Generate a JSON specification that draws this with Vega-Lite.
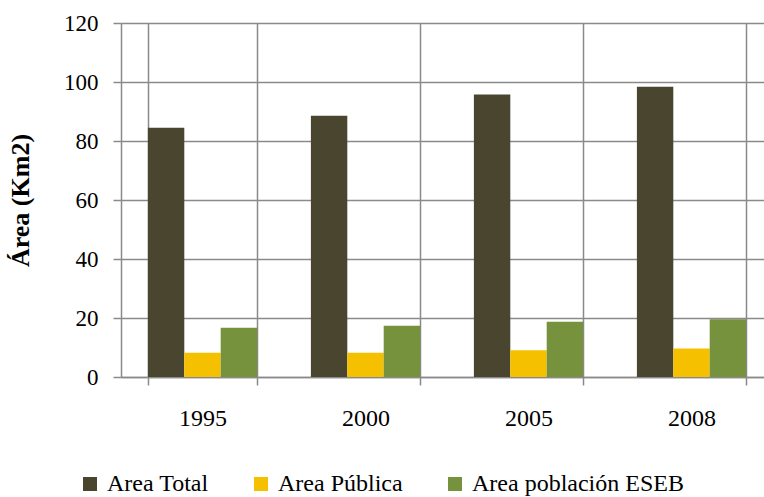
{
  "$schema": "https://vega.github.io/schema/vega-lite/v6.json",
  "width": 643,
  "height": 354,
  "autosize": {"type": "none"},
  "padding": {"left": 121, "top": 23, "right": 0, "bottom": 120},
  "background": "white",
  "config": {
    "view": {"stroke": null},
    "font": "Liberation Serif",
    "axis": {"labelFont": "Liberation Serif", "titleFont": "Liberation Serif"},
    "legend": {"labelFont": "Liberation Serif"}
  },
  "data": {
    "values": [
      {"year": "1995", "serie": "Area Total", "value": 84.5},
      {"year": "1995", "serie": "Area Pública", "value": 8.2},
      {"year": "1995", "serie": "Area población ESEB", "value": 16.7},
      {"year": "2000", "serie": "Area Total", "value": 88.6},
      {"year": "2000", "serie": "Area Pública", "value": 8.2},
      {"year": "2000", "serie": "Area población ESEB", "value": 17.4},
      {"year": "2005", "serie": "Area Total", "value": 95.8},
      {"year": "2005", "serie": "Area Pública", "value": 9.1},
      {"year": "2005", "serie": "Area población ESEB", "value": 18.7},
      {"year": "2008", "serie": "Area Total", "value": 98.4},
      {"year": "2008", "serie": "Area Pública", "value": 9.7},
      {"year": "2008", "serie": "Area población ESEB", "value": 19.6}
    ]
  },
  "mark": {"type": "bar"},
  "encoding": {
    "x": {
      "field": "year",
      "type": "nominal",
      "sort": null,
      "scale": {"range": [0, 652], "paddingInner": 0.33, "paddingOuter": 0.165},
      "axis": {
        "title": null,
        "labelAngle": 0,
        "labelFontSize": 24,
        "labelColor": "black",
        "labelPadding": 21,
        "tickBand": "extent",
        "grid": true,
        "gridColor": "#8a8a8a",
        "gridWidth": 1.5,
        "ticks": true,
        "tickSize": 8,
        "tickColor": "#8a8a8a",
        "tickWidth": 1.5,
        "domain": true,
        "domainColor": "#8a8a8a",
        "domainWidth": 1.5
      }
    },
    "xOffset": {
      "field": "serie",
      "type": "nominal",
      "sort": ["Area Total", "Area Pública", "Area población ESEB"],
      "scale": {"paddingInner": 0, "paddingOuter": 0}
    },
    "y": {
      "field": "value",
      "type": "quantitative",
      "scale": {"domain": [0, 120], "nice": false},
      "axis": {
        "title": "Área (Km2)",
        "titleFontSize": 26,
        "titleFontWeight": "bold",
        "titleColor": "black",
        "titlePadding": 30,
        "values": [0, 20, 40, 60, 80, 100, 120],
        "labelFontSize": 23,
        "labelColor": "black",
        "labelPadding": 15,
        "grid": true,
        "gridColor": "#8a8a8a",
        "gridWidth": 1.5,
        "tickSize": 8,
        "tickColor": "#8a8a8a",
        "tickWidth": 1.5,
        "domainColor": "#8a8a8a",
        "domainWidth": 1.5
      }
    },
    "color": {
      "field": "serie",
      "type": "nominal",
      "sort": ["Area Total", "Area Pública", "Area población ESEB"],
      "scale": {
        "domain": ["Area Total", "Area Pública", "Area población ESEB"],
        "range": ["#4a452f", "#f5c000", "#76923c"]
      },
      "legend": {
        "orient": "none",
        "legendX": -43,
        "legendY": 449,
        "direction": "horizontal",
        "title": null,
        "symbolType": "square",
        "symbolSize": 196,
        "symbolStrokeWidth": 0,
        "labelFontSize": 24,
        "labelColor": "black",
        "labelOffset": 5,
        "labelLimit": 400,
        "columnPadding": 40
      }
    }
  }
}
